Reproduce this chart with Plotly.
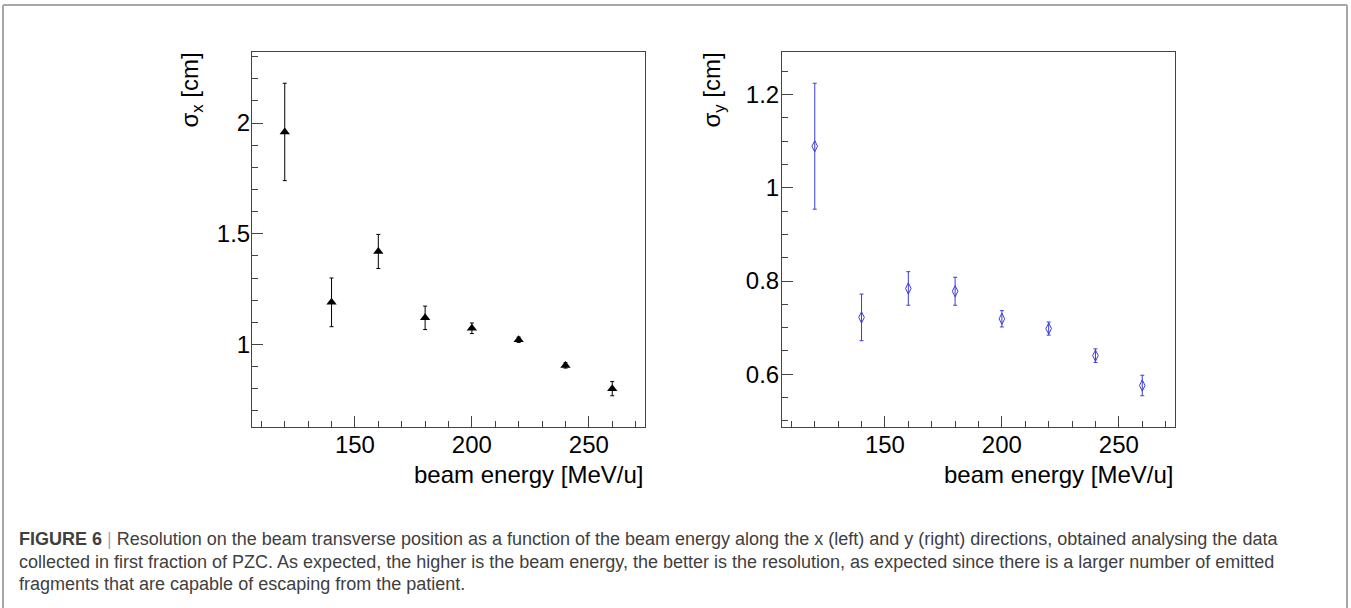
import plotly.graph_objects as go

# ---- data ----
energy = [120, 140, 160, 180, 200, 220, 240, 260]
sigma_x = [1.96, 1.19, 1.42, 1.12, 1.073, 1.021, 0.905, 0.80]
sigma_x_err = [0.22, 0.11, 0.077, 0.053, 0.024, 0.012, 0.012, 0.032]
sigma_y = [1.089, 0.722, 0.784, 0.778, 0.719, 0.698, 0.640, 0.576]
sigma_y_err = [0.135, 0.05, 0.036, 0.03, 0.0175, 0.014, 0.0145, 0.022]

x_title = "beam energy [MeV/u]"
y_title_left = "σ<sub>x</sub> [cm]"
y_title_right = "σ<sub>y</sub> [cm]"
caption_lines = [
    "<b>FIGURE 6</b> <span style='color:#aaaaaa'>|</span> Resolution on the beam transverse position as a function of the beam energy along the x (left) and y (right) directions, obtained analysing the data",
    "collected in first fraction of PZC. As expected, the higher is the beam energy, the better is the resolution, as expected since there is a larger number of emitted",
    "fragments that are capable of escaping from the patient.",
]

W, H = 1351, 608
FONT = "Liberation Sans, Arial, Helvetica, sans-serif"


def px(x):
    return x / W


def py(y):
    return 1 - y / H


def root_range(vals, errs):
    lo = min(v - e for v, e in zip(vals, errs))
    hi = max(v + e for v, e in zip(vals, errs))
    d = hi - lo
    return [lo - 0.1 * d, hi + 0.1 * d]


def root_xrange(xs):
    d = max(xs) - min(xs)
    return [min(xs) - 0.1 * d, max(xs) + 0.1 * d]


fig = go.Figure()

fig.add_trace(go.Scatter(
    x=energy, y=sigma_x, mode="markers",
    marker=dict(symbol="triangle-up", size=9, color="black"),
    error_y=dict(type="data", array=sigma_x_err, visible=True, color="black",
                 thickness=1, width=2),
    xaxis="x", yaxis="y", showlegend=False,
))
fig.add_trace(go.Scatter(
    x=energy, y=sigma_y, mode="markers",
    marker=dict(symbol="diamond-tall-open", size=8, color="#3c3cd8",
                line=dict(width=1, color="#3c3cd8")),
    error_y=dict(type="data", array=sigma_y_err, visible=True, color="#3c3cd8",
                 thickness=1, width=2),
    xaxis="x2", yaxis="y2", showlegend=False,
))

axis_common = dict(
    showgrid=False, zeroline=False, showline=True, mirror=True,
    linecolor="#444444", linewidth=1,
    ticks="inside", ticklen=11, tickwidth=1, tickcolor="#444444",
    tickfont=dict(family=FONT, size=24, color="black"),
)
minor_x = dict(dtick=10, ticklen=6, ticks="inside", tickcolor="#444444")

xr = root_xrange(energy)
fig.update_layout(
    width=W, height=H,
    margin=dict(l=0, r=0, t=0, b=0),
    paper_bgcolor="white", plot_bgcolor="white",
    xaxis=dict(domain=[px(252), px(645)], range=xr, anchor="y",
               dtick=50, tick0=0, minor=minor_x, ticklabelstandoff=-4,
               **axis_common),
    yaxis=dict(domain=[py(427), py(52)], range=root_range(sigma_x, sigma_x_err),
               anchor="x", dtick=0.5, tick0=0, ticklabelstandoff=-4,
               minor=dict(dtick=0.1, ticklen=6, ticks="inside", tickcolor="#444444"),
               **axis_common),
    xaxis2=dict(domain=[px(782), px(1175)], range=xr, anchor="y2",
                dtick=50, tick0=0, minor=minor_x, ticklabelstandoff=-4,
                **axis_common),
    yaxis2=dict(domain=[py(427), py(52)], range=root_range(sigma_y, sigma_y_err),
                anchor="x2", dtick=0.2, tick0=0, ticklabelstandoff=-3,
                minor=dict(dtick=0.05, ticklen=6, ticks="inside", tickcolor="#444444"),
                **axis_common),
)

annotations = []
# y titles (rotated, aligned to top of frame)
for xc, txt in [(191, y_title_left), (713, y_title_right)]:
    annotations.append(dict(
        text=txt, x=px(xc), y=py(51), xref="paper", yref="paper",
        xanchor="center", yanchor="top", textangle=-90, showarrow=False,
        font=dict(family=FONT, size=24, color="black"),
    ))
# x titles (right aligned to frame)
for xr_edge in [645, 1175]:
    annotations.append(dict(
        text=x_title, x=px(xr_edge), y=py(474), xref="paper", yref="paper",
        xanchor="right", yanchor="middle", showarrow=False,
        font=dict(family=FONT, size=24, color="black"),
    ))
# caption
for line, yc in zip(caption_lines, [539, 561.5, 584]):
    annotations.append(dict(
        text=line, x=px(17), y=py(yc), xref="paper", yref="paper",
        xanchor="left", yanchor="middle", showarrow=False, align="left",
        font=dict(family=FONT, size=18, color="#404040"),
    ))
fig.update_layout(annotations=annotations)

# page border (top, left, right)
border = dict(color="#a8a8a8", width=2)
fig.add_shape(type="line", xref="paper", yref="paper",
              x0=px(3), x1=px(1347), y0=py(5), y1=py(5), line=border)
fig.add_shape(type="line", xref="paper", yref="paper",
              x0=px(3), x1=px(3), y0=py(5), y1=py(620), line=border)
fig.add_shape(type="line", xref="paper", yref="paper",
              x0=px(1347), x1=px(1347), y0=py(5), y1=py(620), line=border)

fig.write_html("out.html",
               config={"displayModeBar": False},
               post_script="document.body.style.margin='0';document.body.style.overflow='hidden';")
